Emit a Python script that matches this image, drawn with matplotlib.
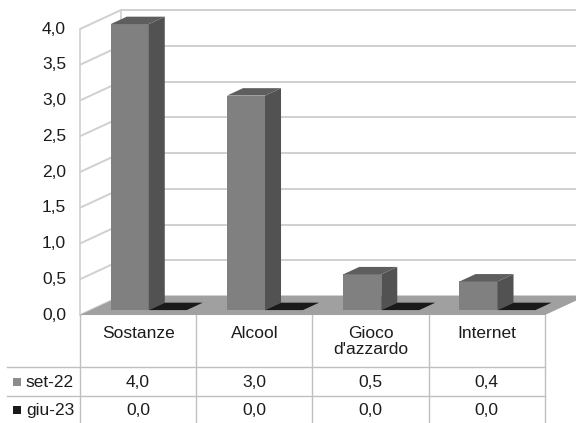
import matplotlib
matplotlib.use("Agg")
import matplotlib.pyplot as plt
from matplotlib.patches import Polygon

categories = ["Sostanze", "Alcool", "Gioco\nd'azzardo", "Internet"]
series_names = ["set-22", "giu-23"]
set_22 = [4.0, 3.0, 0.5, 0.4]
giu_23 = [0.0, 0.0, 0.0, 0.0]
y_ticks = [0.0, 0.5, 1.0, 1.5, 2.0, 2.5, 3.0, 3.5, 4.0]

plt.rcParams["font.family"] = ["Liberation Sans", "DejaVu Sans"]

# depth vector of the 3D box, in (category, value) units
DX, DY = 0.353, 0.266
BAR_D0 = 0.26    # where the bars start, as a fraction of box depth
BAR_D = 0.39     # bar depth, same fraction
BAR_W = 0.327    # bar width in category units

FRONT = "#808080"
SIDE = "#525252"
TOP = "#5e5e5e"
BLACK = "#1a1a1a"
GRID = "#d0d0d0"
LINE = "#c0c0c0"
INK = "#1c1c1c"
FS = 12.5


def fmt(v):
    return f"{v:.1f}".replace(".", ",")


def draw_bar(ax, xl, v, front, side, top, z):
    """Front face via ax.bar, then side and top faces as polygons."""
    b = BAR_D0 * DY
    xl = xl + BAR_D0 * DX
    xr = xl + BAR_W
    ddx, ddy = BAR_D * DX, BAR_D * DY
    if v > 0:
        ax.bar(xl, v, width=BAR_W, bottom=b, align="edge", color=front, lw=0, zorder=z)
        ax.add_patch(Polygon([(xr, b), (xr + ddx, b + ddy), (xr + ddx, b + v + ddy), (xr, b + v)],
                             closed=True, fc=side, ec="none", zorder=z))
    ax.add_patch(Polygon([(xl, b + v), (xr, b + v), (xr + ddx, b + v + ddy), (xl + ddx, b + v + ddy)],
                         closed=True, fc=top, ec="none", zorder=z))


fig = plt.figure(figsize=(5.76, 4.23), dpi=100)
ax = fig.add_axes([0, 0, 1, 1])
ax.set_xlim(-1.188, 3.767)
ax.set_ylim(-1.51, 4.406)
ax.axis("off")

n = len(categories)
x0, x1 = -0.5, n - 0.5
ymax = y_ticks[-1]

# walls: gridlines on the side wall and the back wall
for t in y_ticks:
    ax.plot([x0, x0 + DX], [t, t + DY], color=GRID, lw=1.4, zorder=1, solid_capstyle="butt")
    ax.plot([x0 + DX, x1 + DX], [t + DY, t + DY], color=GRID, lw=1.4, zorder=1)
    ax.text(x0 - 0.12, t, fmt(t), ha="right", va="center", fontsize=FS, color=INK)
ax.plot([x0, x0], [0, ymax], color=GRID, lw=1.2, zorder=1)
ax.plot([x0 + DX, x0 + DX], [DY, ymax + DY], color=GRID, lw=1.2, zorder=1)

# floor
ax.add_patch(Polygon([(x0, 0), (x1, 0), (x1 + DX, DY), (x0 + DX, DY)],
                     closed=True, fc="#a0a0a0", ec="none", zorder=2))

# bars: set-22 left of the category centre, giu-23 right of it
for i in range(n):
    draw_bar(ax, i - BAR_W, set_22[i], FRONT, SIDE, TOP, 3)
    draw_bar(ax, i, giu_23[i], BLACK, BLACK, BLACK, 3)

# data table under the chart
row1, row2, tbl_bottom = -0.727, -1.133, -1.6
for k in range(n + 1):
    ax.plot([x0 + k, x0 + k], [0, tbl_bottom], color=LINE, lw=1.0, zorder=1)
for yr in (row1, row2):
    ax.plot([-1.128, x1], [yr, yr], color=LINE, lw=1.0, zorder=1)

row_centres = [-0.937, -1.33]
for i, cat in enumerate(categories):
    ax.text(i, -0.16, cat, ha="center", va="top", fontsize=FS, color=INK, linespacing=1.05)
    ax.text(i, row_centres[0], fmt(set_22[i]), ha="center", va="center", fontsize=FS, color=INK)
    ax.text(i, row_centres[1], fmt(giu_23[i]), ha="center", va="center", fontsize=FS, color=INK)

legend_colors = ["#8c8c8c", BLACK]
for name, col, yc in zip(series_names, legend_colors, row_centres):
    ax.scatter([-1.046], [yc], marker="s", s=34, color=col, lw=0, zorder=4)
    ax.text(-0.965, yc, name, ha="left", va="center", fontsize=FS, color=INK)

fig.savefig("out.png", dpi=100, facecolor="white")
